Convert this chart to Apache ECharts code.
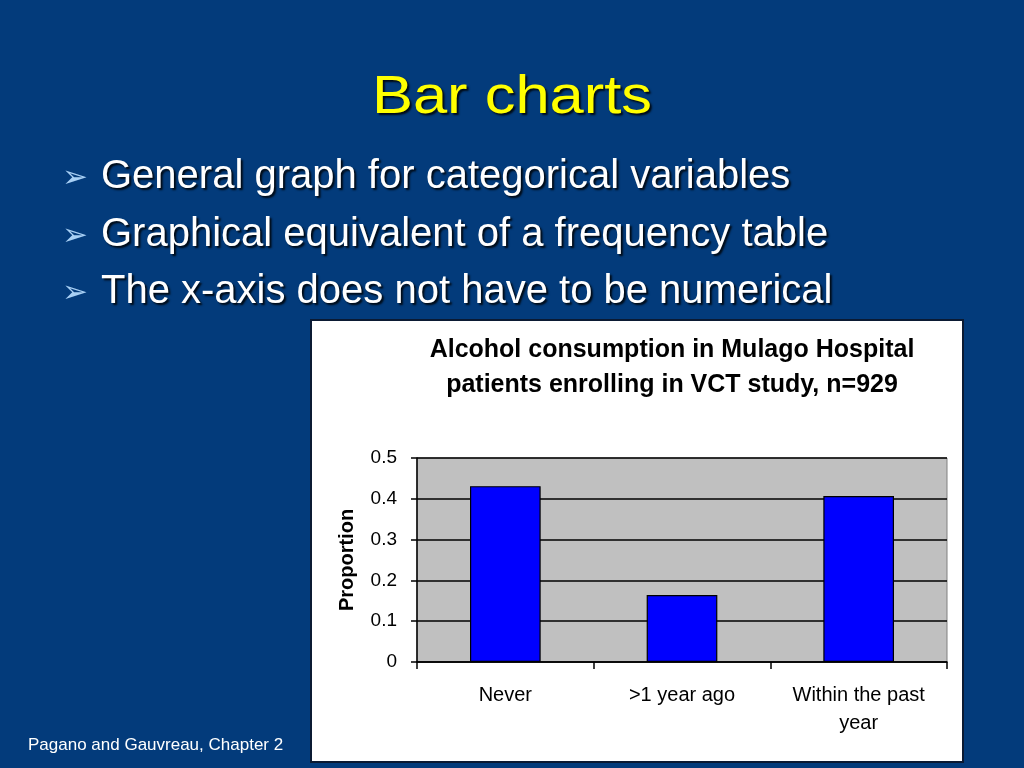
<!DOCTYPE html>
<html><head><meta charset="utf-8">
<script src="https://cdn.jsdelivr.net/npm/echarts@6/dist/echarts.min.js"></script>
<style>html,body{margin:0;padding:0;background:#023a7a;}#c{width:1024px;height:768px;}</style>
</head><body><div id="c"></div>
<script>
const slideTitle = 'Bar charts';
const bullets = ['General graph for categorical variables', 'Graphical equivalent of a frequency table', 'The x-axis does not have to be numerical'];
const footer = 'Pagano and Gauvreau, Chapter 2';
const chartTitle = 'Alcohol consumption in Mulago Hospital\npatients enrolling in VCT study, n=929';
const categories = ['Never', '>1 year ago', 'Within the past\nyear'];
const proportions = [0.431, 0.164, 0.407];
const yAxisName = 'Proportion';

const FONT = '"Liberation Sans", Arial, sans-serif';
const chart = echarts.init(document.getElementById('c'));
const shadow = {textShadowColor:'rgba(0,0,0,0.85)', textShadowOffsetX:2, textShadowOffsetY:2, textShadowBlur:2};
const graphics = [
  {type:'rect', shape:{x:311, y:320, width:652, height:442}, style:{fill:'#ffffff', stroke:'#0b1a33', lineWidth:2}, z:-10},
  {type:'text', x:512, y:98, scaleX:1.16, style:Object.assign({text:slideTitle, fill:'#ffff00', font:'53px ' + FONT, align:'center', verticalAlign:'middle'}, shadow)},
  {type:'text', x:28, y:745, style:{text:footer, fill:'#ffffff', font:'17px ' + FONT, verticalAlign:'middle'}}
];
bullets.forEach((b, i) => {
  const y = [177, 235, 292][i];
  graphics.push({type:'text', x:62, y:y + 2, style:{text:'\u27A2', fill:'#a8d0f5', font:'bold 31px "DejaVu Sans", sans-serif', verticalAlign:'middle', textShadowColor:'rgba(0,0,0,0.7)', textShadowOffsetX:1, textShadowOffsetY:1}});
  graphics.push({type:'text', x:101, y:y, style:Object.assign({text:b, fill:'#ffffff', font:'40px ' + FONT, verticalAlign:'middle'}, shadow)});
});

chart.setOption({
  backgroundColor: '#033b7b',
  animation: false,
  title: {text: chartTitle, left: 667, textAlign: 'center', top: 328,
    textStyle: {fontFamily: FONT, fontWeight: 'bold', fontSize: 25, color: '#000', lineHeight: 35}},
  graphic: graphics,
  grid: {left: 417, right: 77, top: 458, bottom: 106, show: true, backgroundColor: '#c0c0c0', borderColor: '#808080', borderWidth: 1},
  xAxis: {type: 'category', data: categories,
    axisLine: {lineStyle: {color: '#000', width: 1.5}},
    axisTick: {show: true, alignWithLabel: false, length: 7, lineStyle: {color: '#000', width: 1.5}},
    axisLabel: {color: '#000', fontSize: 20, margin: 19, lineHeight: 28, fontFamily: FONT}},
  yAxis: {type: 'value', min: 0, max: 0.5, interval: 0.1,
    name: yAxisName, nameLocation: 'middle', nameGap: 60,
    nameTextStyle: {color: '#000', fontWeight: 'bold', fontSize: 20, fontFamily: FONT},
    axisLine: {show: true, lineStyle: {color: '#000', width: 1.5}},
    axisTick: {show: true, length: 6, lineStyle: {color: '#000', width: 1.5}},
    splitLine: {lineStyle: {color: '#000', width: 1.5}},
    axisLabel: {color: '#000', fontSize: 19, margin: 20, fontFamily: FONT,
      formatter: v => String(Math.round(v * 10) / 10)}},
  series: [{type: 'bar', data: proportions, barWidth: '40%',
    itemStyle: {color: '#0000ff', borderColor: '#000', borderWidth: 1.2}}]
});
</script></body></html>
